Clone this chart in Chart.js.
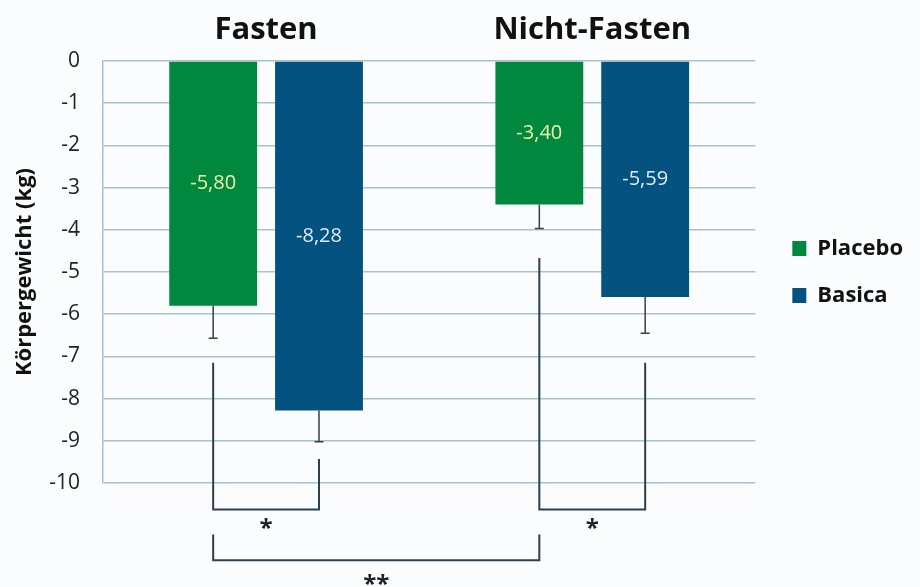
<!DOCTYPE html>
<html lang="de">
<head>
<meta charset="utf-8">
<title>Körpergewicht</title>
<script src="https://cdn.jsdelivr.net/npm/chart.js@4.4.1/dist/chart.umd.min.js"></script>
<style>
  html, body { margin: 0; padding: 0; background: #fbfcfd; }
  canvas { display: block; }
</style>
</head>
<body>
<canvas id="chart" width="920" height="587"></canvas>
<script>
// Gewichtsveränderung (kg) je Gruppe
const categories = ['Fasten', 'Nicht-Fasten'];
const seriesNames = ['Placebo', 'Basica'];
const placeboValues = [-5.80, -3.40];
const basicaValues = [-8.28, -5.59];
// Standardabweichung, nach unten angetragen
const placeboErrors = [0.77, 0.57];
const basicaErrors = [0.74, 0.86];
// Achsenbereich
const yMin = -10;
const yMax = 0;
const yStep = 1;

// Signifikanzklammern: Enden als [Kategorie, Datensatz, Startwert des Arms]
const brackets = [
  { a: [0, 0, -7.15], b: [0, 1, -9.43], level: -10.63, label: '*', labelAt: -10.97 },
  { a: [1, 0, -4.67], b: [1, 1, -7.15], level: -10.63, label: '*', labelAt: -10.97 },
  { a: [0, 0, -11.22], b: [1, 0, -11.22], level: -11.83, label: '**', labelAt: -12.3 }
];

const FONT = '"Open Sans", Lato, sans-serif';
const formatValue = v => v.toFixed(2).replace('.', ',');

// Fehlerbalken unterhalb der Balken
const errorBarPlugin = {
  id: 'errorBars',
  afterDatasetsDraw(chart) {
    const ctx = chart.ctx;
    const yScale = chart.scales.y;
    ctx.save();
    ctx.strokeStyle = '#3a3f44';
    ctx.lineWidth = 1.5;
    chart.data.datasets.forEach((ds, di) => {
      const meta = chart.getDatasetMeta(di);
      meta.data.forEach((bar, i) => {
        const yEnd = yScale.getPixelForValue(ds.data[i] - ds.errors[i]);
        ctx.beginPath();
        ctx.moveTo(bar.x, bar.y);
        ctx.lineTo(bar.x, yEnd);
        ctx.moveTo(bar.x - 4.5, yEnd);
        ctx.lineTo(bar.x + 4.5, yEnd);
        ctx.stroke();
      });
    });
    ctx.restore();
  }
};

// Werte mittig in den Balken
const valueLabelPlugin = {
  id: 'valueLabels',
  afterDatasetsDraw(chart) {
    const ctx = chart.ctx;
    ctx.save();
    ctx.font = '20px ' + FONT;
    ctx.textAlign = 'center';
    ctx.textBaseline = 'middle';
    chart.data.datasets.forEach((ds, di) => {
      const meta = chart.getDatasetMeta(di);
      ctx.fillStyle = ds.labelColor;
      meta.data.forEach((bar, i) => {
        ctx.fillText(formatValue(ds.data[i]), bar.x, (bar.y + bar.base) / 2);
      });
    });
    ctx.restore();
  }
};

// Signifikanzklammern unter dem Diagramm
const bracketPlugin = {
  id: 'brackets',
  afterDatasetsDraw(chart) {
    const ctx = chart.ctx;
    const yScale = chart.scales.y;
    const xOf = ([ci, di]) => chart.getDatasetMeta(di).data[ci].x;
    ctx.save();
    ctx.strokeStyle = '#2c3f4e';
    ctx.lineWidth = 2;
    ctx.fillStyle = '#1e2226';
    ctx.font = 'bold 24px ' + FONT;
    ctx.textAlign = 'center';
    ctx.textBaseline = 'middle';
    brackets.forEach(b => {
      const x1 = xOf(b.a);
      const x2 = xOf(b.b);
      const yl = yScale.getPixelForValue(b.level);
      ctx.beginPath();
      ctx.moveTo(x1, yScale.getPixelForValue(b.a[2]));
      ctx.lineTo(x1, yl);
      ctx.lineTo(x2, yl);
      ctx.lineTo(x2, yScale.getPixelForValue(b.b[2]));
      ctx.stroke();
      ctx.fillText(b.label, (x1 + x2) / 2, yScale.getPixelForValue(b.labelAt) + 5);
    });
    ctx.restore();
  }
};

new Chart(document.getElementById('chart'), {
  type: 'bar',
  data: {
    labels: categories,
    datasets: [
      {
        label: seriesNames[0],
        data: placeboValues,
        errors: placeboErrors,
        backgroundColor: '#00883e',
        labelColor: '#eef0a6'
      },
      {
        label: seriesNames[1],
        data: basicaValues,
        errors: basicaErrors,
        backgroundColor: '#03527f',
        labelColor: '#dfeaf4'
      }
    ]
  },
  options: {
    responsive: false,
    animation: false,
    categoryPercentage: 0.649,
    barPercentage: 0.83,
    layout: { padding: { top: 61, bottom: 104, left: 0, right: 7 } },
    scales: {
      x: {
        position: 'top',
        grid: { display: false },
        border: { display: false },
        ticks: {
          // Gruppennamen oberhalb der Nulllinie
          mirror: true,
          font: { family: FONT, size: 31, weight: 'bold' },
          color: '#111111',
          padding: -49
        },
        afterFit(scale) { scale.height = 0; }
      },
      y: {
        min: yMin,
        max: yMax,
        ticks: {
          stepSize: yStep,
          font: { family: FONT, size: 21 },
          color: '#222222',
          padding: 23
        },
        grid: { color: '#a8c1cf', lineWidth: 1.5, drawTicks: false },
        border: { color: '#a8c1cf', width: 1.5 },
        title: {
          display: true,
          text: 'Körpergewicht (kg)',
          font: { family: FONT, size: 22, weight: 'bold' },
          color: '#111111',
          padding: { top: 12, bottom: 0 }
        },
        afterFit(scale) { scale.width = 103; }
      },
      gap: {
        type: 'linear',
        axis: 'y',
        position: 'right',
        grid: { display: false },
        border: { display: false },
        ticks: { display: false },
        afterFit(scale) { scale.width = 12; }
      }
    },
    plugins: {
      legend: {
        position: 'right',
        labels: {
          boxWidth: 14,
          boxHeight: 15,
          padding: 25,
          font: { family: FONT, size: 22, weight: 'bold' },
          color: '#111111'
        }
      },
      tooltip: { enabled: false }
    }
  },
  plugins: [errorBarPlugin, valueLabelPlugin, bracketPlugin]
});
</script>
</body>
</html>
